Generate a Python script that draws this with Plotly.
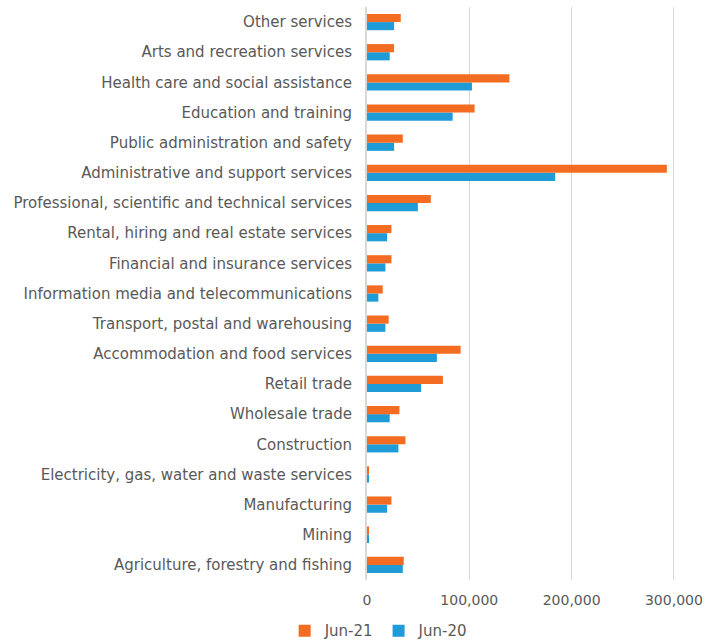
import plotly.graph_objects as go

categories = [
    "Agriculture, forestry and fishing",
    "Mining",
    "Manufacturing",
    "Electricity, gas, water and waste services",
    "Construction",
    "Wholesale trade",
    "Retail trade",
    "Accommodation and food services",
    "Transport, postal and warehousing",
    "Information media and telecommunications",
    "Financial and insurance services",
    "Rental, hiring and real estate services",
    "Professional, scientific and technical services",
    "Administrative and support services",
    "Public administration and safety",
    "Education and training",
    "Health care and social assistance",
    "Arts and recreation services",
    "Other services",
]

jun21 = [35900, 1300, 23900, 1300, 37600, 31700, 74200, 91500, 21200, 15400,
         23900, 23900, 62400, 293100, 35000, 105200, 139200, 26500, 33000]
jun20 = [35000, 1000, 19600, 1300, 30700, 22200, 52900, 68300, 18000, 11100,
         18000, 19600, 49700, 184000, 26500, 83700, 102600, 22200, 26500]

tick_vals = [0, 100000, 200000, 300000]
tick_text = ["0", "100,000", "200,000", "300,000"]

ORANGE = "#F36C21"
BLUE = "#1F9BD7"
FONT = "DejaVu Sans"

fig = go.Figure()
fig.add_trace(go.Bar(y=categories, x=jun20, name="Jun-20", orientation="h",
                     marker=dict(color=BLUE, line=dict(width=0))))
fig.add_trace(go.Bar(y=categories, x=jun21, name="Jun-21", orientation="h",
                     marker=dict(color=ORANGE, line=dict(width=0))))

fig.update_layout(
    width=708, height=641,
    margin=dict(l=367, r=8, t=7, b=61, autoexpand=False),
    paper_bgcolor="white", plot_bgcolor="white",
    barmode="group", bargap=0.46, bargroupgap=0,
    font=dict(family=FONT, size=15, color="#595959"),
    showlegend=True,
    legend=dict(orientation="h", traceorder="reversed", x=0.035, xanchor="center",
                y=-0.06, yanchor="top", font=dict(size=15, color="#595959"),
                itemwidth=30, tracegroupgap=0),
    xaxis=dict(range=[0, 325500], tickvals=tick_vals, ticktext=tick_text,
               showgrid=True, gridcolor="#D9D9D9", gridwidth=1,
               zeroline=False, showline=False, ticks="", ticklen=0,
               tickfont=dict(size=14, color="#595959"), automargin=False,
               ticklabelstandoff=10),
    yaxis=dict(categoryorder="array", categoryarray=categories,
               showgrid=False, zeroline=False, showline=True,
               linecolor="#D9D9D9", linewidth=2, ticks="",
               tickfont=dict(size=15, color="#595959"), automargin=False,
               ticklabelstandoff=10),
)

fig.write_html("out.html", config={"displayModeBar": False},
               post_script="document.body.style.margin='0';document.body.style.overflow='hidden';")
